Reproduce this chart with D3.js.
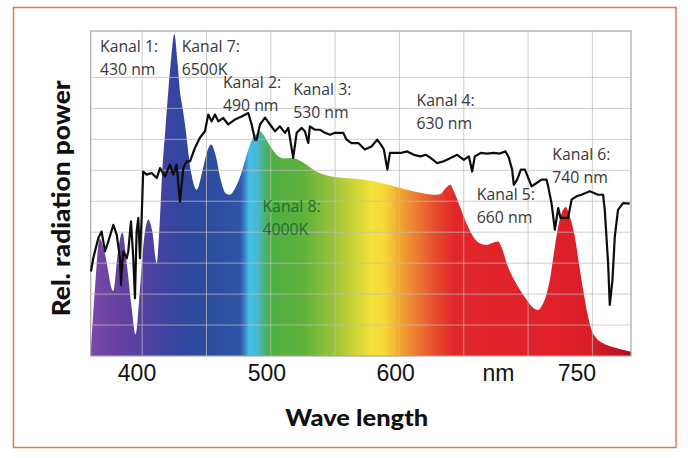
<!DOCTYPE html>
<html><head><meta charset="utf-8">
<script src="https://cdn.jsdelivr.net/npm/d3@7"></script>
<style>
html,body{margin:0;padding:0;background:#fff;}
svg{display:block;}
</style></head>
<body>
<svg id="chart" width="688" height="458"></svg>
<script>
// ---------- DATA ----------
// spectrum of the lamp (coloured area): wavelength (nm) and relative value
const specNm  = [360,363,367,371,377.6,381,384.6,388,392,394.9,398,401.5,404.8,408,411.3,413.5,415.6,418,420.3,422.5,425,427.5,429.4,431.5,433.3,437.9,442.4,447,450.5,453.5,457,461,465,468.3,472,477,482,486,490.2,491.6,495,500,505.8,510,516.2,521.3,527,533,540,547.3,555,565.4,578.4,591.3,604.2,617.2,628.9,632,635,637.9,639.5,642,647,652,657.3,662,667.7,672,676.7,680,683.3,688,693.6,700,704,707.8,711,714,716.9,720,723.4,726,729.3,732,736.3,739.5,742.8,746,749.3,753,758.3,765,772,780];
const specVal = [1,20,38,33,21,33,40,30,15,7,20,38,44,40,30,42,59.6,73,85.5,96,104,95,85.5,80,74.8,59.6,53.7,60,66,68.3,65,57,52.5,52.1,54,59,66,70.5,72.1,72.6,71,67.5,64.5,63.8,64,63.4,62,60.2,58.8,58,57.6,57.3,56.6,55.3,53.9,52.7,52.1,52.3,53.8,55,55.3,53.5,48.3,43,38.6,36.5,35.9,36.5,37,34.5,30,25.5,21.4,17.5,15.5,14.9,16.5,19.5,24.6,33,41.8,46,48.1,45.5,38.6,30,21.4,14,8.4,5.8,4.1,3,2.2,1.4];

// reference spectrum (black line)
const lineNm  = [360.2,362,365.9,368.5,371.1,373.7,377.6,380.2,382.8,383.5,385.3,388,389.2,391.3,393.1,394.4,395.7,397,398.3,399.6,400.8,403.5,407.4,411.3,413.9,417.7,421.6,424.2,426.8,429.4,432,434.6,437.2,441,444.9,448.8,451.4,454,456.6,459.2,463,466.9,472.1,477.3,482.5,485.1,487.7,489,491.6,495.5,499.4,503.3,507.1,511,513.6,517.4,520.1,524,526.5,529.1,530.4,534.3,538.2,542.1,546,549.9,556.3,558.9,562.8,568,573.1,578.3,582.7,585.6,587.9,590.6,592.6,596.5,600.9,606,611.2,616.4,620.6,624.2,629.3,634.5,639.7,644.9,650.1,654,656.5,658.6,663.1,668.2,673.4,678,682.5,685,687.6,688.9,691.5,694.4,697.5,699.8,702.7,706.6,710.5,714.3,715.6,718.2,720.8,723.4,725.2,728.6,731.1,733.8,737.6,741.5,748,754.4,758.3,759.6,762.2,763.5,765.6,767.4,769.9,773.8,779];
const lineVal = [27.3,31.6,38.1,40.2,33.8,37,42.4,39.2,31.6,23,33.8,31.6,33.8,43.5,31.6,18.7,40.2,44.6,31.6,44.6,59.6,58.6,59.1,57.5,60.7,58,61.8,58.6,61.8,49.9,60.7,62.9,62.9,67.2,70.5,72.6,78,75.8,78,75.8,76.9,74.8,76.4,77.4,78.5,74.8,69.9,69.9,74.8,77,74.8,72.6,74.2,72.1,73.7,64,72.1,73.7,72.6,68.8,74.2,73.1,73.1,72.1,71.5,72.1,72.1,69.9,68.8,68.8,66.7,67.7,69.9,68.3,66.7,60.2,65.6,65.6,65.6,66.1,65,64.5,65,64,62.3,62.9,64,65,63.4,64.5,59.6,64.5,65.6,65.4,65.6,65.4,66.1,64.1,60.2,55.3,57,60.2,60.2,57.9,54.8,55.9,57,57,54.8,49.4,40.8,47.8,44.6,44.6,44.6,50.5,51.6,52.1,53.2,52.1,52.1,47.2,30,16.5,24.6,38.6,47.2,49.4,49.2];

// x tick labels and where they sit (nm)
const tickLabels = ["400","500","600","nm","750"];
const tickPos    = [396, 497, 597, 677, 738];

// channel annotations
const labelLine1 = ["Kanal 1:","Kanal 7:","Kanal 2:","Kanal 3:","Kanal 4:","Kanal 6:","Kanal 5:","Kanal 8:"];
const labelLine2 = ["430 nm","6500K","490 nm","530 nm","630 nm","740 nm","660 nm","4000K"];
const labelNm    = [367.2,430.7,462.8,517.4,613.3,718.8,660.1,493.5];
const labelVal   = [98.3,98.3,86.6,84.3,80.8,63.3,50.4,46.6];

const xTitle = "Wave length";
const yTitle = "Rel. radiation power";

// ---------- STYLE ----------
const W = 688, H = 458;
const plot = {left: 90.7, right: 631, top: 31, bottom: 356};
const gradStops = [
  [360,"#7a48a8"],[385,"#62409f"],[410,"#4a42a0"],[425,"#3544a0"],[445,"#2c4a9d"],
  [476,"#2f55a6"],[480,"#3a86c8"],[483,"#42c0e8"],[489,"#48b8d6"],[494,"#4ab48a"],
  [499,"#4daf45"],[525,"#5fb13a"],[548,"#98c33a"],[566,"#d0d536"],[578,"#f3e23a"],
  [588,"#f7da38"],[600,"#f2a833"],[614,"#ec7a31"],[628,"#e54b2c"],[642,"#e0282a"],
  [720,"#e0202a"],[750,"#d81d27"],[780,"#a8101e"]
];

const svg = d3.select("#chart");
svg.append("rect").attr("x",0).attr("y",0).attr("width",W).attr("height",H).attr("fill","#fff");
// outer orange frame
svg.append("rect").attr("x",13.5).attr("y",7.5).attr("width",662.5).attr("height",440)
  .attr("fill","none").attr("stroke","#e8794f").attr("stroke-width",1.5);

const x = d3.scaleLinear().domain([360,780]).range([plot.left, plot.right]);
const y = d3.scaleLinear().domain([0,105]).range([plot.bottom, plot.top]);

// gradient
const defs = svg.append("defs");
const grad = defs.append("linearGradient").attr("id","spec")
  .attr("gradientUnits","userSpaceOnUse")
  .attr("x1",x(360)).attr("x2",x(780)).attr("y1",0).attr("y2",0);
grad.selectAll("stop").data(gradStops).join("stop")
  .attr("offset",d=>(d[0]-360)/420).attr("stop-color",d=>d[1]);

// spectrum area
const specData = specNm.map((n,i)=>({n, v: specVal[i]}));
const area = d3.area().x(d=>x(d.n)).y0(y(0)).y1(d=>y(d.v)).curve(d3.curveMonotoneX);
svg.append("path").datum(specData).attr("d",area).attr("fill","url(#spec)");

// grid
const g = svg.append("g");
const yGrid = d3.range(10,100,10);
const xGrid = d3.range(400,800,50);
g.selectAll("line.h").data(yGrid).join("line").attr("class","h")
  .attr("x1",plot.left).attr("x2",plot.right).attr("y1",d=>y(d)).attr("y2",d=>y(d))
  .attr("stroke","#bdbdbd").attr("stroke-opacity",0.75).attr("stroke-width",1);
g.selectAll("line.v").data(xGrid).join("line").attr("class","v")
  .attr("y1",plot.top).attr("y2",plot.bottom).attr("x1",d=>x(d)).attr("x2",d=>x(d))
  .attr("stroke","#bdbdbd").attr("stroke-opacity",0.75).attr("stroke-width",1);
// frame of the plot
svg.append("rect").attr("x",plot.left).attr("y",plot.top)
  .attr("width",plot.right-plot.left).attr("height",plot.bottom-plot.top)
  .attr("fill","none").attr("stroke","#a6a6a6").attr("stroke-width",1.2);

// black line
const lineData = lineNm.map((n,i)=>({n, v: lineVal[i]}));
svg.append("path").datum(lineData)
  .attr("d", d3.line().x(d=>x(d.n)).y(d=>y(d.v)))
  .attr("fill","none").attr("stroke","#0d0d0d").attr("stroke-width",2.2)
  .attr("stroke-linejoin","round");

// annotations
const ann = svg.append("g").attr("font-family","'Open Sans', sans-serif").attr("font-size","15.8px");
labelLine1.forEach((t,i)=>{
  const col = i===7 ? "#1b7034" : "#383838";
  const tx = ann.append("text").attr("x",x(labelNm[i])).attr("y",y(labelVal[i])).attr("fill",col);
  tx.append("tspan").attr("x",x(labelNm[i])).text(t);
  tx.append("tspan").attr("x",x(labelNm[i])).attr("dy",22.8).text(labelLine2[i]);
});

// x tick labels
svg.append("g").selectAll("text").data(tickLabels).join("text")
  .attr("x",(d,i)=>x(tickPos[i])).attr("y",380.5)
  .attr("text-anchor","middle").attr("font-family","'Liberation Sans', Arial, sans-serif")
  .attr("font-size","23px").attr("fill","#111").text(d=>d);

// axis titles
svg.append("text").attr("x",356.7).attr("y",426).attr("text-anchor","middle")
  .attr("font-family","Lato, sans-serif").attr("font-weight",900).attr("font-size","23px")
  .attr("textLength",143).attr("lengthAdjust","spacingAndGlyphs")
  .attr("fill","#111").text(xTitle);
svg.append("text").attr("transform","translate(70,198.3) rotate(-90)").attr("text-anchor","middle")
  .attr("font-family","Lato, sans-serif").attr("font-weight",900).attr("font-size","24px")
  .attr("textLength",236).attr("lengthAdjust","spacingAndGlyphs")
  .attr("fill","#111").text(yTitle);
</script>
</body></html>
